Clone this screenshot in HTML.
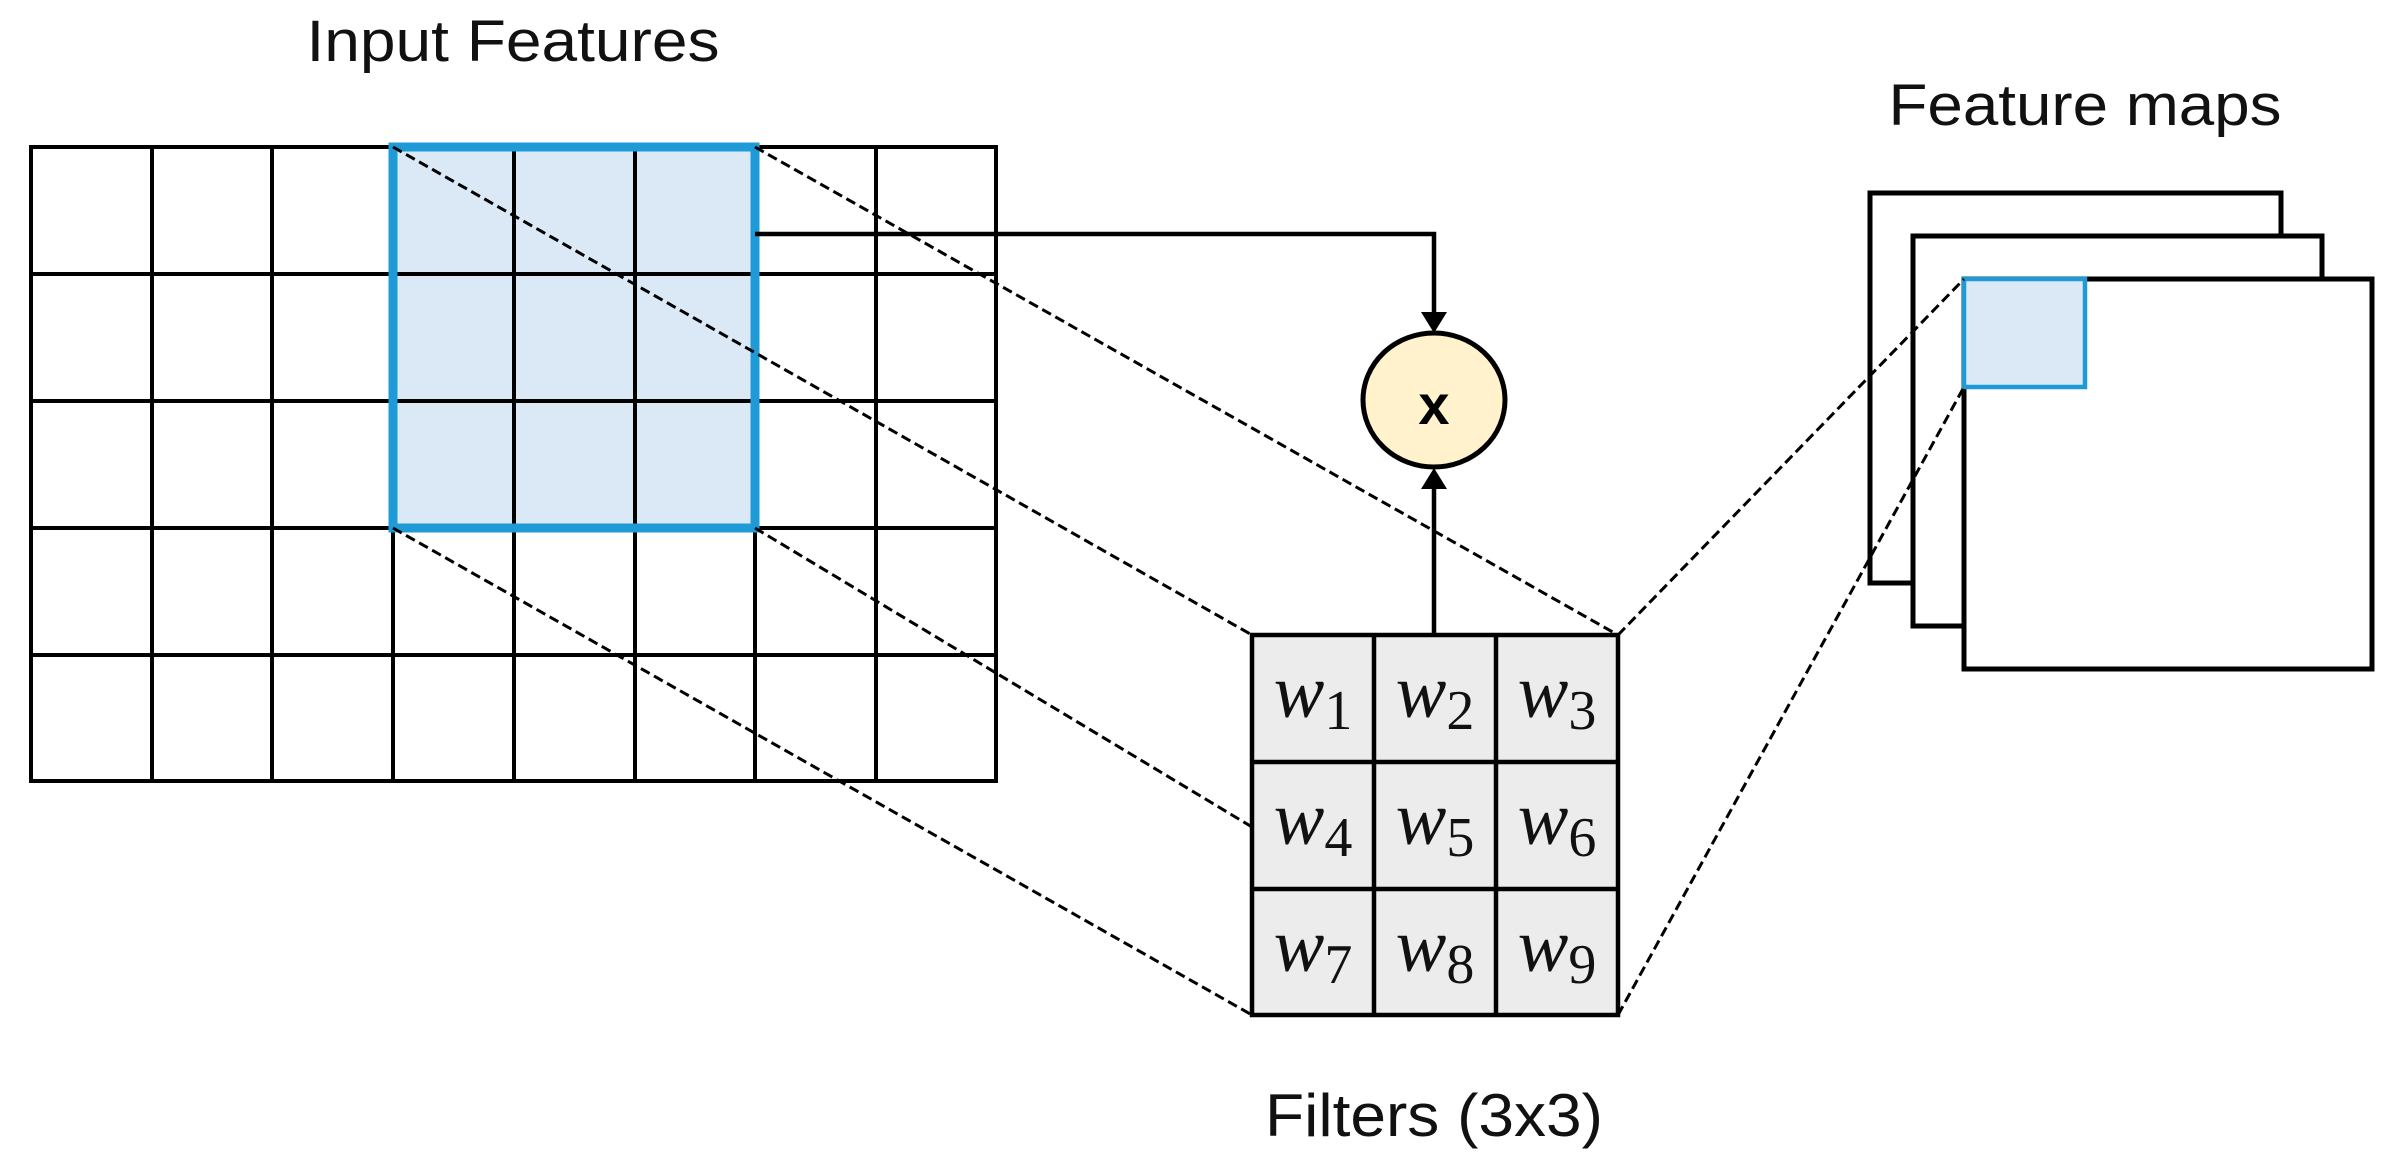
<!DOCTYPE html>
<html><head><meta charset="utf-8"><style>
html,body{margin:0;padding:0;background:#fff;}
svg{display:block;}
text{font-family:"Liberation Sans",sans-serif;}
text.w{font-family:"Liberation Serif",serif;}
</style></head><body>
<svg width="2400" height="1167" viewBox="0 0 2400 1167" xmlns="http://www.w3.org/2000/svg">
<text x="513" y="61" font-size="58" text-anchor="middle" fill="#111" textLength="413" lengthAdjust="spacingAndGlyphs">Input Features</text>
<text x="2085" y="125" font-size="58" text-anchor="middle" fill="#111" textLength="393" lengthAdjust="spacingAndGlyphs">Feature maps</text>
<text x="1434" y="1136" font-size="60" text-anchor="middle" fill="#111" textLength="338" lengthAdjust="spacingAndGlyphs">Filters (3x3)</text>

<rect x="393" y="147" width="362" height="381" fill="#dbe9f6"/>
<g stroke="#000" stroke-width="4" fill="none">
<rect x="31" y="147" width="965" height="634"/>
<line x1="152" y1="147" x2="152" y2="781"/>
<line x1="272" y1="147" x2="272" y2="781"/>
<line x1="393" y1="147" x2="393" y2="781"/>
<line x1="514" y1="147" x2="514" y2="781"/>
<line x1="635" y1="147" x2="635" y2="781"/>
<line x1="755" y1="147" x2="755" y2="781"/>
<line x1="876" y1="147" x2="876" y2="781"/>
<line x1="31" y1="274" x2="996" y2="274"/>
<line x1="31" y1="401" x2="996" y2="401"/>
<line x1="31" y1="528" x2="996" y2="528"/>
<line x1="31" y1="655" x2="996" y2="655"/>
</g>
<rect x="393" y="147" width="362" height="381" fill="none" stroke="#1e9bd7" stroke-width="9"/>

<polyline points="755,234 1434,234 1434,312" fill="none" stroke="#000" stroke-width="4.5"/>
<polygon points="1421,312 1447,312 1434,333" fill="#000"/>
<line x1="1434" y1="635" x2="1434" y2="488" stroke="#000" stroke-width="4.5"/>
<polygon points="1421,489 1447,489 1434,468" fill="#000"/>
<ellipse cx="1434" cy="400" rx="71" ry="67" fill="#fff2cc" stroke="#000" stroke-width="5"/>
<text x="1434" y="424" font-size="56" font-weight="bold" text-anchor="middle" fill="#000">x</text>

<rect x="1252" y="635" width="366" height="380" fill="#ececec"/>
<g stroke="#000" stroke-width="4.5" fill="none">
<rect x="1252" y="635" width="366" height="380"/>
<line x1="1374" y1="635" x2="1374" y2="1015"/>
<line x1="1496" y1="635" x2="1496" y2="1015"/>
<line x1="1252" y1="762" x2="1618" y2="762"/>
<line x1="1252" y1="889" x2="1618" y2="889"/>
</g>
<g fill="#111">
<text class="w" x="1313" y="717" font-size="76" text-anchor="middle"><tspan font-style="italic">w</tspan><tspan font-size="56" dy="12">1</tspan></text>
<text class="w" x="1435" y="717" font-size="76" text-anchor="middle"><tspan font-style="italic">w</tspan><tspan font-size="56" dy="12">2</tspan></text>
<text class="w" x="1557" y="717" font-size="76" text-anchor="middle"><tspan font-style="italic">w</tspan><tspan font-size="56" dy="12">3</tspan></text>
<text class="w" x="1313" y="844" font-size="76" text-anchor="middle"><tspan font-style="italic">w</tspan><tspan font-size="56" dy="12">4</tspan></text>
<text class="w" x="1435" y="844" font-size="76" text-anchor="middle"><tspan font-style="italic">w</tspan><tspan font-size="56" dy="12">5</tspan></text>
<text class="w" x="1557" y="844" font-size="76" text-anchor="middle"><tspan font-style="italic">w</tspan><tspan font-size="56" dy="12">6</tspan></text>
<text class="w" x="1313" y="971" font-size="76" text-anchor="middle"><tspan font-style="italic">w</tspan><tspan font-size="56" dy="12">7</tspan></text>
<text class="w" x="1435" y="971" font-size="76" text-anchor="middle"><tspan font-style="italic">w</tspan><tspan font-size="56" dy="12">8</tspan></text>
<text class="w" x="1557" y="971" font-size="76" text-anchor="middle"><tspan font-style="italic">w</tspan><tspan font-size="56" dy="12">9</tspan></text>
</g>

<g stroke="#000" stroke-width="5" fill="#fff">
<rect x="1870" y="193" width="411" height="390"/>
<rect x="1913" y="236" width="409" height="390"/>
<rect x="1964" y="279" width="408" height="390"/>
</g>
<rect x="1964" y="279" width="121" height="108" fill="#dbe9f6" stroke="#1e9bd7" stroke-width="4.5"/>

<g stroke="#000" stroke-width="3" stroke-dasharray="10,5" fill="none">
<line x1="393" y1="147" x2="1252" y2="635"/>
<line x1="755" y1="147" x2="1618" y2="635"/>
<line x1="393" y1="528" x2="1252" y2="1015"/>
<line x1="755" y1="528" x2="1252" y2="827"/>
<line x1="1618" y1="635" x2="1964" y2="279"/>
<line x1="1618" y1="1015" x2="1964" y2="387"/>
</g>
</svg>
</body></html>
